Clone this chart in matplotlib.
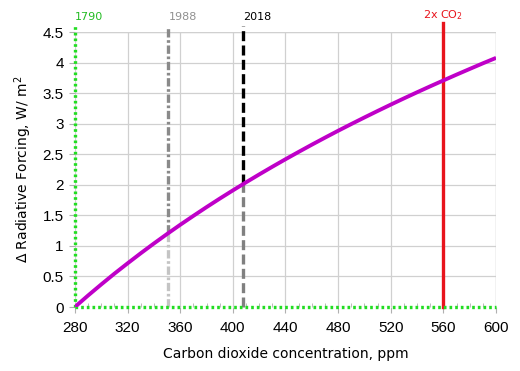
import numpy as np
import matplotlib
matplotlib.use("Agg")
import matplotlib.pyplot as plt

co2_ppm = [280, 290, 300, 310, 320, 330, 340, 350, 360, 370, 380, 390, 400, 410, 420,
           430, 440, 450, 460, 470, 480, 490, 500, 510, 520, 530, 540, 550, 560,
           570, 580, 590, 600]
forcing = [0.000, 0.188, 0.369, 0.545, 0.714, 0.879, 1.039, 1.194, 1.345, 1.491,
           1.634, 1.773, 1.908, 2.040, 2.169, 2.295, 2.418, 2.538, 2.656, 2.771,
           2.884, 2.994, 3.102, 3.208, 3.312, 3.414, 3.514, 3.612, 3.708, 3.803,
           3.896, 3.988, 4.077]

marker_years = ["1790", "1988", "2018", "2x CO$_2$"]
marker_ppm = [280, 351, 408, 560]

x_ticks = [280, 320, 360, 400, 440, 480, 520, 560, 600]
y_ticks = [0, 0.5, 1, 1.5, 2, 2.5, 3, 3.5, 4, 4.5]
y_tick_labels = ["0", "0.5", "1", "1.5", "2", "2.5", "3", "3.5", "4", "4.5"]

fig = plt.figure(figsize=(5.2, 3.71), dpi=100)
ax = fig.add_axes([0.144, 0.1725, 0.810, 0.7412])
ax.set_xlim(280, 600)
ax.set_ylim(0, 4.5)

for s in ax.spines.values():
    s.set_visible(False)

ax.set_xticks(x_ticks)
ax.set_yticks(y_ticks)
ax.set_yticklabels(y_tick_labels)
ax.set_xticks(np.arange(280, 601, 10), minor=True)
ax.grid(True, which="major", color="#d0d0d0", linewidth=0.9, zorder=0)
ax.tick_params(axis="both", which="major", length=4, color="#b0b0b0", labelsize=11, pad=6)
ax.tick_params(axis="y", which="major", pad=4)
ax.tick_params(axis="x", which="minor", length=3, color="#b0b0b0", direction="in")
for lab in ax.get_xticklabels() + ax.get_yticklabels():
    lab.set_family("Liberation Sans")

# top and right border as grid
ax.axhline(4.5, color="#c8c8c8", lw=0.9, zorder=1)
ax.axvline(600, color="#c8c8c8", lw=0.9, zorder=1)

fc = np.interp(marker_ppm, co2_ppm, forcing)
top_ext = 4.6

# 1790 green dotted
ax.plot([280, 280], [0, top_ext], color="#22dd22", lw=2.4, ls=(0, (0.8, 0.9)), clip_on=False, zorder=4)
ax.plot([280, 600], [0, 0], color="#22dd22", lw=2.4, ls=(0, (0.8, 0.9)), clip_on=False, zorder=4)

# 1988 gray dash-dot, lighter below curve
ax.plot([marker_ppm[1]] * 2, [fc[1], top_ext], color="#8a8a8a", lw=2.4, ls=(0, (2.5, 0.8, 0.8, 0.8)), clip_on=False, zorder=3)
ax.plot([marker_ppm[1]] * 2, [0, fc[1]], color="#c4c4c4", lw=2.4, ls=(0, (2.5, 0.8, 0.8, 0.8)), clip_on=False, zorder=3)

# 2018 black dashed, gray below curve
ax.plot([marker_ppm[2]] * 2, [fc[2], top_ext], color="black", lw=2.4, ls=(0, (3, 1.3)), clip_on=False, zorder=3)
ax.plot([marker_ppm[2]] * 2, [0, fc[2]], color="#808080", lw=2.4, ls=(0, (3, 1.3)), clip_on=False, zorder=3)

# 2x CO2 red
ax.plot([marker_ppm[3]] * 2, [0, top_ext + 0.04], color="#e8141c", lw=2.4, clip_on=False, zorder=3)

# curve
ax.plot(co2_ppm, forcing, color="#bf00c8", lw=2.8, zorder=5, solid_capstyle="butt")

label_colors = ["#22bb22", "#909090", "black", "#e8141c"]
for name, x, c in zip(marker_years, marker_ppm, label_colors):
    ax.text(x, 4.66, name, color=c, fontsize=8, ha="left" if name != "2x CO$_2$" else "center",
            va="bottom", family="DejaVu Sans")

ax.set_xlabel("Carbon dioxide concentration, ppm", fontsize=10, family="DejaVu Sans", labelpad=9)
ax.set_ylabel("Δ Radiative Forcing, W/ m$^2$", fontsize=10, family="DejaVu Sans", labelpad=6)

fig.savefig("out.png", dpi=100)
